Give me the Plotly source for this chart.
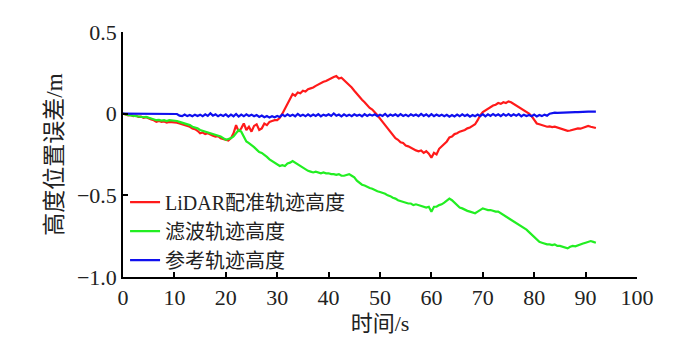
import numpy as np
import plotly.graph_objects as go

t_start, t_step, n_pts = 0.0, 0.5, 185
time_s = [t_start + i * t_step for i in range(n_pts)]

lidar = [
    0, -0.005, -0.01, -0.008, -0.015, -0.012, -0.02, -0.018, -0.025, -0.022,
    -0.03, -0.035, -0.04, -0.05, -0.045, -0.05, -0.048, -0.055, -0.05, -0.052,
    -0.05, -0.055, -0.06, -0.065, -0.07, -0.075, -0.08, -0.09, -0.095, -0.105,
    -0.12, -0.115, -0.125, -0.12, -0.13, -0.135, -0.14, -0.138, -0.15, -0.155,
    -0.16, -0.165, -0.15, -0.12, -0.07, -0.11, -0.09, -0.06, -0.10, -0.08,
    -0.11, -0.075, -0.065, -0.10, -0.09, -0.06, -0.07, -0.05, -0.045, -0.04,
    -0.04, -0.025, 0.0, 0.03, 0.06, 0.09, 0.12, 0.11, 0.13, 0.125,
    0.14, 0.135, 0.15, 0.155, 0.16, 0.17, 0.18, 0.185, 0.195, 0.20,
    0.21, 0.22, 0.225, 0.23, 0.215, 0.22, 0.205, 0.195, 0.18, 0.16,
    0.14, 0.12, 0.10, 0.085, 0.07, 0.05, 0.035, 0.025, 0.01, -0.01,
    -0.03, -0.05, -0.07, -0.09, -0.11, -0.135, -0.15, -0.16, -0.175, -0.18,
    -0.195, -0.20, -0.21, -0.215, -0.225, -0.23, -0.225, -0.24, -0.23, -0.245,
    -0.27, -0.24, -0.25, -0.215, -0.20, -0.18, -0.17, -0.145, -0.14, -0.125,
    -0.12, -0.11, -0.105, -0.10, -0.09, -0.085, -0.075, -0.065, -0.04, -0.01,
    0.01, 0.02, 0.035, 0.04, 0.05, 0.055, 0.065, 0.06, 0.07, 0.065,
    0.075, 0.07, 0.06, 0.055, 0.045, 0.03, 0.02, 0.01, 0.0, -0.015,
    -0.04, -0.06, -0.065, -0.07, -0.075, -0.08, -0.078, -0.082, -0.08, -0.085,
    -0.09, -0.095, -0.10, -0.105, -0.103, -0.098, -0.095, -0.09, -0.092, -0.085,
    -0.08, -0.075, -0.08, -0.085, -0.088,
]

filtered = [
    0, -0.005, -0.008, -0.01, -0.012, -0.015, -0.02, -0.018, -0.022, -0.02,
    -0.025, -0.03, -0.035, -0.04, -0.038, -0.042, -0.04, -0.045, -0.04, -0.042,
    -0.04, -0.045, -0.05, -0.055, -0.06, -0.065, -0.07, -0.08, -0.085, -0.09,
    -0.10, -0.105, -0.11, -0.115, -0.12, -0.125, -0.13, -0.135, -0.14, -0.15,
    -0.16, -0.155, -0.15, -0.14, -0.12, -0.10, -0.11, -0.14, -0.17, -0.18,
    -0.19, -0.205, -0.22, -0.235, -0.24, -0.25, -0.265, -0.28, -0.29, -0.30,
    -0.31, -0.32, -0.315, -0.32, -0.305, -0.30, -0.29, -0.30, -0.31, -0.32,
    -0.335, -0.345, -0.35, -0.355, -0.36, -0.355, -0.36, -0.365, -0.36, -0.365,
    -0.365, -0.37, -0.37, -0.375, -0.37, -0.38, -0.38, -0.375, -0.37, -0.38,
    -0.39, -0.41, -0.425, -0.435, -0.44, -0.45, -0.455, -0.46, -0.47, -0.475,
    -0.48, -0.485, -0.49, -0.50, -0.505, -0.515, -0.52, -0.53, -0.535, -0.54,
    -0.545, -0.55, -0.55, -0.56, -0.555, -0.56, -0.565, -0.57, -0.575, -0.57,
    -0.60, -0.57, -0.57, -0.56, -0.555, -0.545, -0.53, -0.52, -0.53, -0.545,
    -0.56, -0.575, -0.58, -0.59, -0.595, -0.60, -0.605, -0.61, -0.60, -0.59,
    -0.58, -0.585, -0.59, -0.59, -0.595, -0.60, -0.60, -0.61, -0.62, -0.625,
    -0.635, -0.645, -0.655, -0.665, -0.675, -0.69, -0.70, -0.71, -0.725, -0.74,
    -0.76, -0.775, -0.785, -0.79, -0.795, -0.80, -0.80, -0.805, -0.80, -0.81,
    -0.81, -0.815, -0.82, -0.825, -0.815, -0.81, -0.812, -0.805, -0.80, -0.795,
    -0.79, -0.785, -0.78, -0.785, -0.79,
]

reference = [
    0, 0, 0, 0, 0, 0, 0, 0, 0, 0,
    0, 0, 0, 0, 0.002, 0, 0, 0, -0.002, 0,
    0, -0.002, -0.012, -0.015, -0.005, -0.015, -0.008, -0.016, -0.006, -0.014,
    -0.006, -0.016, -0.004, -0.014, 0.002, -0.012, -0.004, -0.016, -0.006, -0.014,
    -0.004, -0.018, -0.006, -0.016, -0.002, -0.018, -0.006, -0.016, -0.004, -0.014,
    -0.006, -0.016, -0.008, -0.02, -0.012, -0.022, -0.014, -0.024, -0.016, -0.022,
    -0.014, -0.02, -0.006, -0.016, -0.004, -0.014, -0.006, -0.016, -0.002, -0.014,
    -0.006, -0.016, -0.004, -0.015, -0.005, -0.014, -0.003, -0.016, -0.006, -0.013,
    -0.004, -0.014, 0.001, -0.012, -0.005, -0.016, -0.004, -0.014, -0.006, -0.015,
    -0.004, -0.013, -0.006, -0.016, -0.003, -0.014, -0.005, -0.012, -0.004, -0.015,
    -0.006, -0.014, -0.002, -0.016, -0.005, -0.013, -0.004, -0.015, -0.003, -0.014,
    -0.006, -0.016, -0.004, -0.013, -0.005, -0.015, -0.002, -0.014, -0.004, -0.016,
    -0.003, -0.015, -0.005, -0.014, -0.006, -0.016, -0.007, -0.018, -0.008, -0.017,
    -0.006, -0.016, -0.004, -0.014, -0.006, -0.018, -0.008, -0.016, -0.006, -0.015,
    -0.003, -0.016, -0.004, -0.014, -0.002, -0.012, -0.004, -0.015, -0.003, -0.013,
    -0.002, -0.014, -0.004, -0.012, -0.003, -0.016, -0.006, -0.014, -0.008, -0.016,
    -0.006, -0.017, -0.008, -0.015, -0.006, -0.012, 0.0, 0.004, 0.006, 0.005,
    0.006, 0.008, 0.007, 0.008, 0.009, 0.008, 0.01, 0.009, 0.011, 0.01,
    0.012, 0.013, 0.012, 0.011, 0.012,
]

series_names = ["LiDAR配准轨迹高度", "滤波轨迹高度", "参考轨迹高度"]
series_colors = ["#ff1a1a", "#22ee22", "#1010ee"]
series_values = [lidar, filtered, reference]

x_ticks = [0, 10, 20, 30, 40, 50, 60, 70, 80, 90, 100]
y_ticks = [0.5, 0, -0.5, -1.0]
y_tick_text = ["0.5", "0", "−0.5", "−1.0"]

serif = "Liberation Serif, Times New Roman, Noto Sans CJK SC, serif"

fig = go.Figure()
for name, color, vals in zip(series_names, series_colors, series_values):
    fig.add_trace(go.Scatter(x=time_s, y=vals, mode="lines", name=name,
                             line=dict(color=color, width=2.2)))

fig.update_layout(
    width=692, height=350,
    margin=dict(l=115, r=63, t=20, b=81),
    paper_bgcolor="white", plot_bgcolor="white",
    font=dict(family=serif, color="#222", size=22),
    showlegend=True,
    legend=dict(x=0.004, y=0.385, xanchor="left", yanchor="top",
                bgcolor="rgba(0,0,0,0)", font=dict(family=serif, size=20, color="#222"),
                tracegroupgap=0, itemwidth=30),
    xaxis=dict(range=[0, 100], tickvals=x_ticks, ticks="inside", ticklen=5,
               tickwidth=1.5, tickcolor="black", showline=True, linecolor="black",
               linewidth=1.5, showgrid=False, zeroline=False,
               tickfont=dict(family=serif, size=22, color="#222"),
               title=dict(text="时间/s", font=dict(family=serif, size=22, color="#222"),
                          standoff=6)),
    yaxis=dict(range=[-1.0, 0.5], tickvals=y_ticks, ticktext=y_tick_text,
               ticks="inside", ticklen=5, tickwidth=1.5, tickcolor="black",
               showline=True, linecolor="black", linewidth=1.5, showgrid=False,
               zeroline=False, tickfont=dict(family=serif, size=22, color="#222"),
               title=dict(text="高度位置误差/m", font=dict(family=serif, size=23, color="#222"),
                          standoff=8)),
)

fig.write_html("out.html")
